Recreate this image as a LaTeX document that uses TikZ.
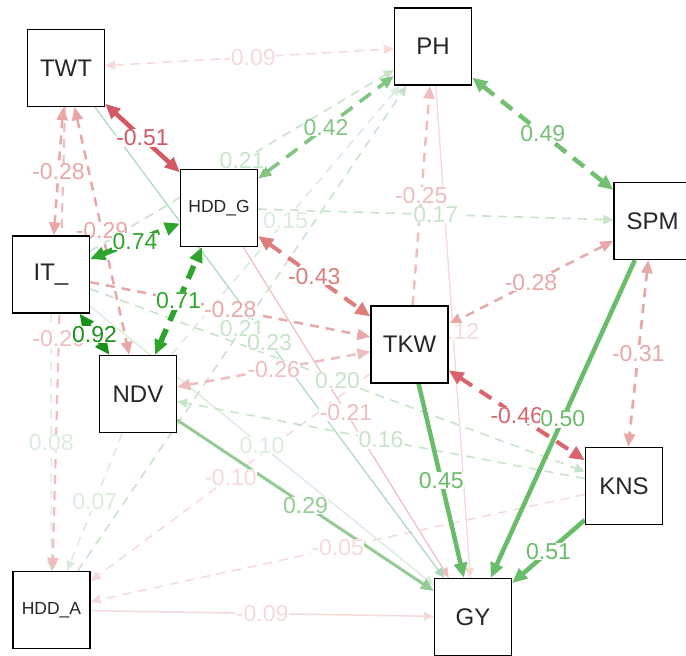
\documentclass[tikz,border=0pt]{standalone}
\usepackage{fontspec}
\setmainfont{Liberation Sans}
\usetikzlibrary{arrows.meta,backgrounds}
\definecolor{g92}{RGB}{25,145,25}
\definecolor{g74}{RGB}{45,165,45}
\definecolor{g51}{RGB}{105,188,105}
\definecolor{g49}{RGB}{115,192,115}
\definecolor{g42}{RGB}{128,198,128}
\definecolor{g29}{RGB}{148,204,148}
\definecolor{gf2}{RGB}{200,228,200}
\definecolor{gf1}{RGB}{218,237,218}
\definecolor{gteal}{RGB}{170,215,195}
\definecolor{r51}{RGB}{212,88,98}
\definecolor{r46}{RGB}{218,100,108}
\definecolor{r43}{RGB}{222,125,122}
\definecolor{r3}{RGB}{233,168,168}
\definecolor{r2}{RGB}{238,190,190}
\definecolor{rf1}{RGB}{245,218,218}
\tikzset{
  box/.style={draw=black, line width=1.3pt, fill=white, minimum size=77pt, inner sep=0pt, font=\fontsize{24}{24}\selectfont, text=black!85},
  sbox/.style={box, font=\fontsize{17.5}{17.5}\selectfont},
  lbl/.style={fill=white, inner sep=0.5pt, font=\fontsize{23}{23}\selectfont},
  tipS/.style={-{Triangle[length=10pt,width=9pt]}},
  dblS/.style={{Triangle[length=10pt,width=9pt]}-{Triangle[length=10pt,width=9pt]}},
  tipM/.style={-{Triangle[length=13pt,width=11pt]}},
  dblM/.style={{Triangle[length=13pt,width=11pt]}-{Triangle[length=13pt,width=11pt]}},
  tipL/.style={-{Triangle[length=15pt,width=13pt]}},
  dblL/.style={{Triangle[length=15pt,width=13pt]}-{Triangle[length=15pt,width=13pt]}},
  dsh/.style={dash pattern=on 9pt off 7pt},
  dshL/.style={dash pattern=on 14pt off 9pt},
}
\begin{document}
\begin{tikzpicture}[x=1pt,y=-1pt]
\useasboundingbox (0,0) rectangle (686,656);
% nodes
\node[box]  (TWT)  at (66,68)   {TWT};
\node[box]  (PH)   at (433,46.5) {PH};
\node[sbox] (HDDG) at (219,208) {HDD\_G};
\node[box]  (IT)   at (51,274.5) {IT\_};
\node[box]  (NDV)  at (138,394) {NDV};
\node[box]  (SPM)  at (652.5,221) {SPM};
\node[box]  (TKW)  at (409.5,344.5) {TKW};
\node[box]  (KNS)  at (624,486) {KNS};
\node[box]  (GY)   at (473,617) {GY};
\node[sbox] (HDDA) at (51.5,610) {HDD\_A};
\begin{pgfonlayer}{background}
\fill[white] (0,0) rectangle (686,656);
% ---- edges, faint to strong
\draw[rf1, line width=1.5pt, dsh, dblS] (TWT) -- (PH);
\draw[rf1, line width=1.5pt, tipS] (HDDA) -- (GY);
\draw[rf1, line width=1.5pt, dsh, tipS] (KNS) -- (HDDA);
\draw[gf1, line width=1.5pt, dsh, tipS] (IT) -- (HDDA);
\draw[gf1, line width=1.5pt, dsh, tipS] (NDV) -- (HDDA);
\draw[rf1, line width=1.5pt, dsh, tipS] (TKW) -- (HDDA);
\draw[gf1, line width=1.3pt, tipS] (IT) -- (GY);
\draw[rf1, line width=1.3pt, tipS] (PH) -- (GY);
\draw[gf1, line width=1.6pt, dsh, tipS] (NDV) -- (PH);
\draw[gf2, line width=1.6pt, dsh, tipS] (KNS) -- (NDV);
\draw[gf2, line width=1.6pt, dsh, tipS] (HDDG) -- (SPM);
\draw[gf2, line width=1.6pt, dsh, tipS] (IT) -- (KNS);
\draw[r2, line width=2.2pt, dsh, tipM] (TWT) -- (HDDA);
\draw[gf2, line width=1.6pt, dsh, tipS] (IT) -- (PH);
\draw[gf2, line width=1.6pt, dsh, tipS] (HDDA) -- (PH);
\draw[r2, line width=1.2pt, tipS] (HDDG) -- (GY);
\draw[gteal, line width=1.2pt, tipS] (TWT) -- (GY);
\draw[r2, line width=2.5pt, dsh, tipM] (TKW) -- (PH);
\draw[r2, line width=2.5pt, dsh, dblM] (NDV) -- (TKW);
\draw[r3, line width=2.5pt, dsh, dblM] (TWT) -- (IT);
\draw[r3, line width=2.5pt, dsh, tipM] (IT) -- (TKW);
\draw[r3, line width=2.5pt, dsh, dblM] (SPM) -- (TKW);
\draw[r3, line width=2.5pt, dsh, dblM] (TWT) -- (NDV);
\draw[g29, line width=3pt, tipM] (NDV) -- (GY);
\draw[r3, line width=2.7pt, dsh, dblM] (SPM) -- (KNS);
\draw[g42, line width=3.5pt, dshL, dblM] (HDDG) -- (PH);
\draw[r43, line width=4pt, dshL, dblL] (HDDG) -- (TKW);
\draw[g51, line width=4.5pt, tipL] (TKW) -- (GY);
\draw[r46, line width=4pt, dshL, dblL] (TKW) -- (KNS);
\draw[g49, line width=4.5pt, dshL, dblL] (PH) -- (SPM);
\draw[g51, line width=4.5pt, tipL] (SPM) -- (GY);
\draw[g51, line width=4.5pt, tipL] (KNS) -- (GY);
\draw[r51, line width=4.5pt, dblL] (TWT) -- (HDDG);
\draw[g74, line width=5.5pt, dshL, dblL] (NDV) -- (HDDG);
\draw[g74, line width=5.5pt, dshL, dblL] (IT) -- (HDDG);
\draw[g92, line width=5pt, dblL] (IT) -- (NDV);
% ---- labels, faint to strong
\path (TWT) -- node[lbl, text=rf1] {-0.09} (PH);
\path (HDDA) -- node[lbl, text=rf1] {-0.09} (GY);
\path (KNS) -- node[lbl, text=rf1] {-0.05} (HDDA);
\path (IT) -- node[lbl, text=gf1] {0.08} (HDDA);
\path (NDV) -- node[lbl, text=gf1] {0.07} (HDDA);
\path (TKW) -- node[lbl, text=rf1] {-0.10} (HDDA);
\path (IT) -- node[lbl, text=gf1] {0.10} (GY);
\path (PH) -- node[lbl, text=rf1] {-0.12} (GY);
\path (NDV) -- node[lbl, text=gf1] {0.15} (PH);
\path (KNS) -- node[lbl, text=gf2] {0.16} (NDV);
\path (HDDG) -- node[lbl, text=gf2] {0.17} (SPM);
\path (IT) -- node[lbl, text=gf2] {0.20} (KNS);
\path (TWT) -- node[lbl, text=r2] {-0.20} (HDDA);
\path (IT) -- node[lbl, text=gf2] {0.21} (PH);
\path (HDDA) -- node[lbl, text=gf2] {0.21} (PH);
\path (HDDG) -- node[lbl, text=r2] {-0.21} (GY);
\path (TWT) -- node[lbl, text=gf2] {0.23} (GY);
\path (TKW) -- node[lbl, text=r2] {-0.25} (PH);
\path (NDV) -- node[lbl, text=r2] {-0.26} (TKW);
\path (TWT) -- node[lbl, text=r3] {-0.28} (IT);
\path (IT) -- node[lbl, text=r3] {-0.28} (TKW);
\path (SPM) -- node[lbl, text=r3] {-0.28} (TKW);
\path (TWT) -- node[lbl, text=r3] {-0.29} (NDV);
\path (NDV) -- node[lbl, text=g29] {0.29} (GY);
\path (SPM) -- node[lbl, text=r3] {-0.31} (KNS);
\path (HDDG) -- node[lbl, text=g42] {0.42} (PH);
\path (HDDG) -- node[lbl, text=r43] {-0.43} (TKW);
\path (TKW) -- node[lbl, text=g51] {0.45} (GY);
\path (TKW) -- node[lbl, text=r46] {-0.46} (KNS);
\path (PH) -- node[lbl, text=g49] {0.49} (SPM);
\path (SPM) -- node[lbl, text=g51] {0.50} (GY);
\path (KNS) -- node[lbl, text=g51] {0.51} (GY);
\path (TWT) -- node[lbl, text=r51] {-0.51} (HDDG);
\path (NDV) -- node[lbl, text=g74] {0.71} (HDDG);
\path (IT) -- node[lbl, text=g74] {0.74} (HDDG);
\path (IT) -- node[lbl, text=g92] {0.92} (NDV);
\end{pgfonlayer}
\end{tikzpicture}
\end{document}
